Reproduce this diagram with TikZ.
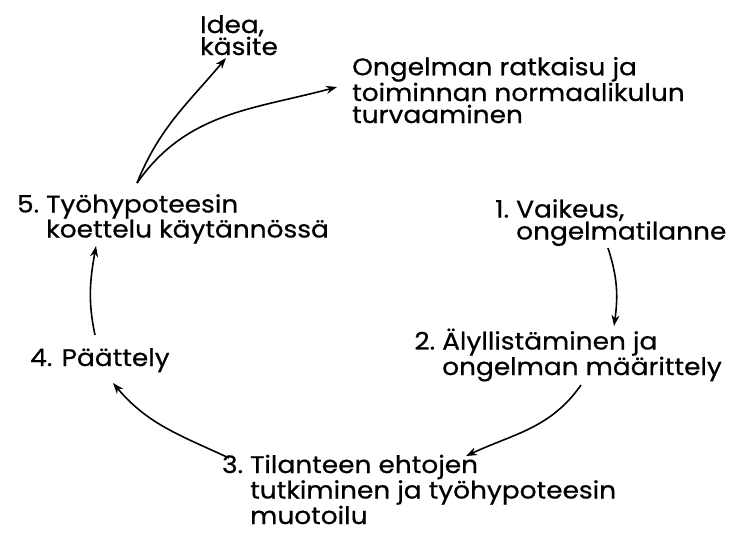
\documentclass[tikz,border=0pt]{standalone}
\usepackage{fontspec}
\setmainfont{Poppins}[FakeStretch=1.1,FakeBold=0.6]
\usetikzlibrary{arrows.meta}
\begin{document}
\begin{tikzpicture}[x=1pt,y=1pt,
  lbl/.style={anchor=base west,inner sep=0pt,align=left,
    font=\fontsize{24}{22}\selectfont},
  flow/.style={line width=1.6pt,-{Stealth[length=11pt,width=8pt]}}]
\useasboundingbox (0,0) rectangle (735,-536);
% labels (anchored at the baseline of their last line)
\node[lbl] (idea) at (200,-55) {Idea,\\käsite};
\node[lbl] (ong)  at (352,-123) {Ongelman ratkaisu ja\\toiminnan normaalikulun\\turvaaminen};
\node[lbl] (n5)   at (46,-237.5) {\llap{5.\ }Työhypoteesin\\koettelu käytännössä};
\node[lbl] (n1)   at (516,-239.5) {\llap{1.\ }Vaikeus,\\ongelmatilanne};
\node[lbl] (n2)   at (442,-375) {\llap{2.\ }Älyllistäminen ja\\ongelman määrittely};
\node[lbl] (n4)   at (30,-366) {4. Päättely};
\node[lbl] (n3)   at (250,-524) {\llap{3.\ }Tilanteen ehtojen\\tutkiminen ja työhypoteesin\\muotoilu};
% cycle arrows
\draw[flow] ([shift={(92,-8.5)}]n1.base west) to[out=-72,in=82] ([shift={(172,49)}]n2.base west);
\draw[flow] ([shift={(139,-10)}]n2.base west) to[out=235,in=25] ([shift={(216,68)}]n3.base west);
\draw[flow] ([shift={(-21,66)}]n3.base west) to[out=155,in=-50] ([shift={(83,-17)}]n4.base west);
\draw[flow] ([shift={(65,31)}]n4.base west) to[out=102,in=-100] ([shift={(50,-8.5)}]n5.base west);
% outcomes of step 5
\draw[flow] ([shift={(91,54.5)}]n5.base west) to[out=68,in=230] ([shift={(26,-3)}]idea.base west);
\draw[flow] ([shift={(91,54.5)}]n5.base west) to[out=55,in=195] ([shift={(-15,36)}]ong.base west);
\end{tikzpicture}
\end{document}
